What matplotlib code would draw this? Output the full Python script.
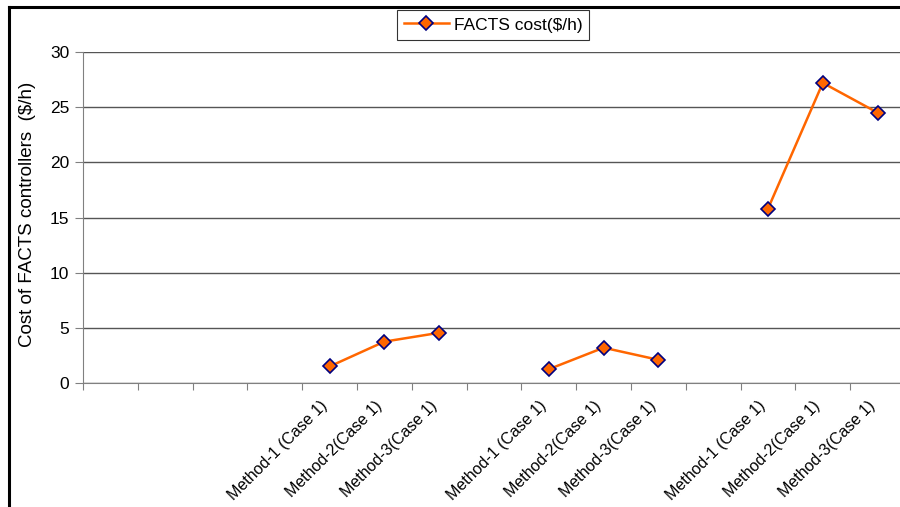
import numpy as np
import matplotlib
matplotlib.use('Agg')
import matplotlib.pyplot as plt
from matplotlib.lines import Line2D
from matplotlib.transforms import ScaledTranslation

plt.rcParams['font.family'] = ['Liberation Sans', 'DejaVu Sans']

# 15 category slots, blanks are empty slots on the axis
categories = ['', '', '', '',
              'Method-1 (Case 1)', 'Method-2(Case 1)', 'Method-3(Case 1)', '',
              'Method-1 (Case 1)', 'Method-2(Case 1)', 'Method-3(Case 1)', '',
              'Method-1 (Case 1)', 'Method-2(Case 1)', 'Method-3(Case 1)']
facts_cost = [np.nan, np.nan, np.nan, np.nan,
              1.5, 3.75, 4.55, np.nan,
              1.25, 3.2, 2.1, np.nan,
              15.8, 27.2, 24.5]
y_ticks = [0, 5, 10, 15, 20, 25, 30]

orange = '#FF6600'
navy = '#000080'

fig = plt.figure(figsize=(9, 5.07), dpi=100)
ax = fig.add_axes([83 / 900, 1 - 383 / 507, 822 / 900, 331 / 507])

x = np.arange(len(categories))
ax.plot(x, facts_cost, c=orange, lw=1.8, marker='D', ms=7.5, mfc=orange, mec=navy, mew=1.2,
        label='FACTS cost($/h)', zorder=3)

ax.set_xlim(-0.5, len(categories) - 0.5)
ax.set_ylim(0, 30)
ax.set_yticks(y_ticks)
ax.yaxis.grid(True, color='#555555', lw=1)
ax.set_axisbelow(True)

# category boundary ticks, labels at the category centres
ax.set_xticks(np.arange(len(categories) + 1) - 0.5)
ax.set_xticks(x, minor=True)
ax.set_xticklabels([])
ax.set_xticklabels(categories, minor=True, rotation=45, ha='right', rotation_mode='anchor',
                   fontsize=11.5)
ax.tick_params(axis='x', which='major', direction='out', length=5, color='#808080')
ax.tick_params(axis='x', which='minor', length=0, pad=11)
ax.tick_params(axis='y', direction='out', length=6, color='#808080', labelsize=12.5, pad=4)
# nudge the slanted labels left (after tick_params, which resets transforms)
shift = ScaledTranslation(-10 / 100, 0, fig.dpi_scale_trans)
for lbl in ax.get_xticklabels(minor=True):
    lbl.set_transform(lbl.get_transform() + shift)

for side in ['top', 'right']:
    ax.spines[side].set_visible(False)
ax.spines['left'].set_color('#808080')
ax.spines['bottom'].set_color('#808080')

ax.set_ylabel('Cost of FACTS controllers  ($/h)', fontsize=13.5)
ax.yaxis.set_label_coords(-0.057, 0.509)

leg = fig.legend(loc='center', bbox_to_anchor=(493 / 900, 1 - 25 / 507), fontsize=12.5,
                 frameon=True, fancybox=False, handlelength=2.6, borderpad=0.4,
                 handletextpad=0.3)
leg.get_frame().set_edgecolor('black')
leg.get_frame().set_linewidth(0.8)

# outer chart border (left and top edges visible)
fig.add_artist(Line2D([9 / 900, 9 / 900], [0, 1 - 7 / 507], color='black', lw=2.2,
                      transform=fig.transFigure))
fig.add_artist(Line2D([9 / 900, 1], [1 - 7 / 507, 1 - 7 / 507], color='black', lw=2.2,
                      transform=fig.transFigure))

fig.savefig('out.png', dpi=100)
